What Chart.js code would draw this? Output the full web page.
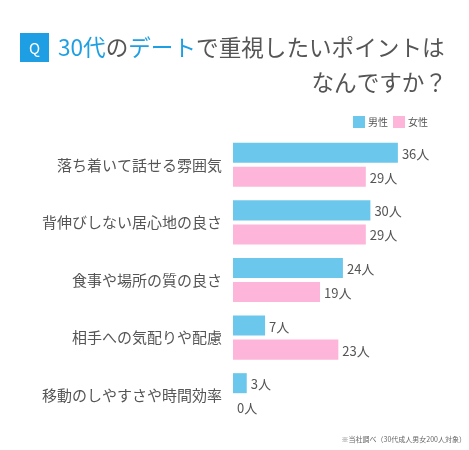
<!DOCTYPE html>
<html>
<head>
<meta charset="utf-8">
<script src="https://cdn.jsdelivr.net/npm/chart.js@4"></script>
<style>
  body { margin: 0; background: #fff; }
</style>
</head>
<body>
<canvas id="chart" width="469" height="450"></canvas>
<script>
const categories = ['落ち着いて話せる雰囲気', '背伸びしない居心地の良さ', '食事や場所の質の良さ', '相手への気配りや配慮', '移動のしやすさや時間効率'];
const male = [36, 30, 24, 7, 3];
const female = [29, 29, 19, 23, 0];
const seriesNames = ['男性', '女性'];
const unit = '人';

const FONT = '"Noto Sans CJK JP", "Noto Sans", sans-serif';
const BLUE = '#6cc7ec';
const PINK = '#fdb6d9';
const TEXT = '#555555';
const ACCENT = '#1f9fe3';

// title, legend, value labels, footnote
const extras = {
  id: 'extras',
  afterDatasetsDraw(chart) {
    const ctx = chart.ctx;
    ctx.save();

    // Q box
    ctx.fillStyle = ACCENT;
    ctx.fillRect(20, 33, 29, 29);
    ctx.fillStyle = '#fff';
    ctx.font = '15px ' + FONT;
    ctx.textAlign = 'center';
    ctx.textBaseline = 'middle';
    ctx.fillText('Q', 34.5, 48);

    // title line 1
    const parts = [['30代', ACCENT], ['の', TEXT], ['デート', ACCENT], ['で重視したいポイントは', TEXT]];
    ctx.font = '22.6px ' + FONT;
    ctx.textAlign = 'left';
    let x = 58;
    parts.forEach(p => {
      ctx.fillStyle = p[1];
      ctx.fillText(p[0], x, 47);
      x += ctx.measureText(p[0]).width;
    });
    // title line 2
    ctx.textAlign = 'right';
    ctx.fillStyle = TEXT;
    ctx.fillText('なんですか？', 447, 82);

    // legend
    ctx.font = '10px ' + FONT;
    ctx.textAlign = 'left';
    const legendX = [353, 393];
    chart.data.datasets.forEach((ds, i) => {
      ctx.fillStyle = ds.backgroundColor;
      ctx.fillRect(legendX[i], 116, 12, 12);
      ctx.fillStyle = TEXT;
      ctx.fillText(ds.label, legendX[i] + 15, 122);
    });

    // value labels
    ctx.font = '13px ' + FONT;
    ctx.fillStyle = TEXT;
    chart.data.datasets.forEach((ds, i) => {
      chart.getDatasetMeta(i).data.forEach((bar, j) => {
        ctx.fillText(ds.data[j] + unit, bar.x + 4, bar.y + 1);
      });
    });

    // footnote
    ctx.font = '7px ' + FONT;
    ctx.textAlign = 'right';
    ctx.fillStyle = '#666';
    ctx.fillText('※当社調べ（30代成人男女200人対象）', 466, 439);

    ctx.restore();
  }
};

new Chart(document.getElementById('chart'), {
  type: 'bar',
  data: {
    labels: categories,
    datasets: [
      { label: seriesNames[0], data: male, backgroundColor: BLUE },
      { label: seriesNames[1], data: female, backgroundColor: PINK }
    ]
  },
  options: {
    indexAxis: 'y',
    responsive: false,
    animation: false,
    layout: { padding: { top: 136, right: 7, bottom: 26, left: 0 } },
    datasets: {
      bar: { categoryPercentage: 0.835, barPercentage: 0.833 }
    },
    scales: {
      x: { display: false, min: 0, max: 50 },
      y: {
        grid: { display: false, drawTicks: false },
        border: { display: false },
        ticks: { padding: 11, color: TEXT, font: { family: FONT, size: 15 } },
        afterFit(scale) { scale.width = 233; }
      }
    },
    plugins: {
      legend: { display: false },
      tooltip: { enabled: false }
    }
  },
  plugins: [extras]
});
</script>
</body>
</html>
